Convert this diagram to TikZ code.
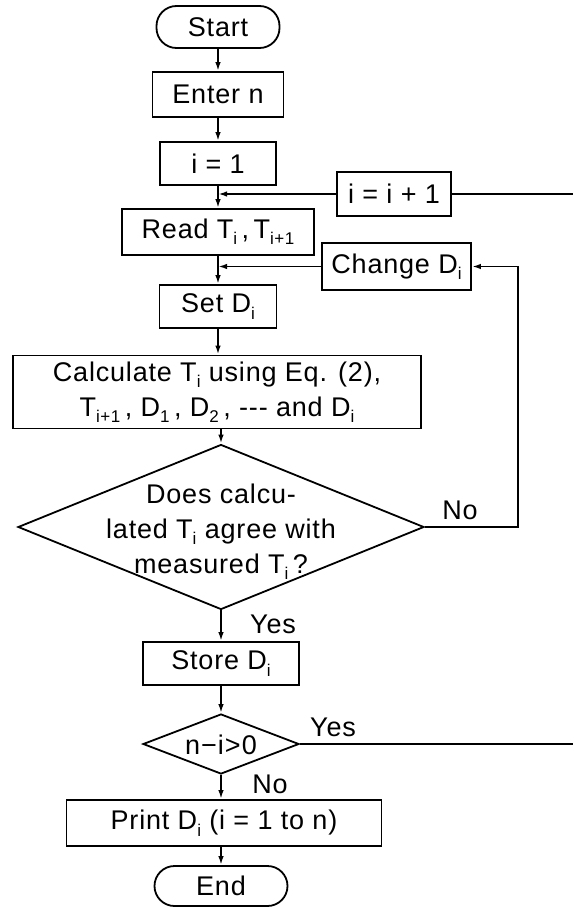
\documentclass[tikz,border=0pt]{standalone}
\usepackage{fontspec}
\setmainfont{Liberation Sans}[LetterSpace=3]
\usepackage{graphicx}
\usetikzlibrary{arrows.meta,shapes.geometric}
\newcommand\sbs[1]{\raisebox{-0.45ex}{\fontsize{17}{17}\selectfont #1}}
\begin{document}
\begin{tikzpicture}[x=1pt,y=-1pt,
  every node/.style={font=\fontsize{27}{35}\selectfont, inner sep=0pt},
  box/.style={draw, line width=1.8pt, rectangle, align=center},
  term/.style={draw, line width=1.8pt, rectangle, rounded corners=20pt},
  dia/.style={draw, line width=1.8pt, diamond},
  lbl/.style={},
  line/.style={line width=1.8pt},
  arr/.style={line width=1.8pt, -{Latex[length=9pt,width=5.5pt]}}]
\useasboundingbox (0,0) rectangle (573,907);
% nodes
\node[term, minimum width=123, minimum height=42] (start) at (218,27) {Start};
\node[box, minimum width=131, minimum height=45] (enter) at (218,94.5) {Enter n};
\node[box, minimum width=116, minimum height=43] (ione) at (218,163.5) {i = 1};
\node[box, minimum width=114, minimum height=44] (inc) at (394,194) {i = i + 1};
\node[box, minimum width=192, minimum height=46] (read) at (218,232) {Read T\sbs{i}\,,\,T\sbs{i+1}};
\node[box, minimum width=149, minimum height=47] (change) at (396.5,266.5) {Change D\sbs{i}};
\node[box, minimum width=117, minimum height=43] (set) at (218,306.5) {Set D\sbs{i}};
\node[box, minimum width=408, minimum height=73] (calc) at (217,392) {Calculate T\sbs{i} using Eq. (2),\\T\sbs{i+1}\,, D\sbs{1}\,, D\sbs{2}\,, -{}-{}- and D\sbs{i}};
\node[dia, minimum width=406, minimum height=165] (d1) at (221,527) {};
\node[align=center] (d1t) at (221,532) {Does calcu-\\lated T\sbs{i} agree with\\measured T\sbs{i}\,?};
\node[box, minimum width=156, minimum height=43] (store) at (221,663.5) {Store D\sbs{i}};
\node[dia, minimum width=156, minimum height=60] (d2) at (221,744) {};
\node (d2t) at (221,745) {n\kern1pt−\kern1pt i\kern1pt>\kern1pt0};
\node[box, minimum width=315, minimum height=46] (print) at (224,823) {Print D\sbs{i} (i = 1 to n)};
\node[term, minimum width=133, minimum height=40] (end) at (221,886) {End};
% labels
\node[lbl] (no1) at (460,510) {No};
\node[lbl] (yes1) at (273,624) {Yes};
\node[lbl] (yes2) at (333,727) {Yes};
\node[lbl] (no2) at (270,784) {No};
% junctions and free ends
\coordinate (j1) at (218,194);
\coordinate (j2) at (218,266.5);
\coordinate (r1) at (573,194);
\coordinate (r2) at (573,744);
\coordinate (c1) at (518,527);
\coordinate (c2) at (518,266.5);
% connectors
\draw[arr] (start) -- (enter);
\draw[arr] (enter) -- (ione);
\draw[arr] (ione) -- (read);
\draw[arr] (inc.west) -- (j1);
\draw[line] (inc.east) -- (r1);
\draw[arr] (read) -- (set);
\draw[arr] (change.west) -- (j2);
\draw[arr] (set) -- (set |- calc.north);
\draw[arr] (calc.south -| d1.north) -- (d1.north);
\draw[arr] (d1.east) -- (c1) -- (c2) -- (change.east);
\draw[arr] (d1.south) -- (store.north);
\draw[arr] (store) -- (d2.north);
\draw[line] (d2.east) -- (r2);
\draw[arr] (d2.south) -- (d2.south |- print.north);
\draw[arr] (print.south -| end.north) -- (end.north);
\end{tikzpicture}
\end{document}
